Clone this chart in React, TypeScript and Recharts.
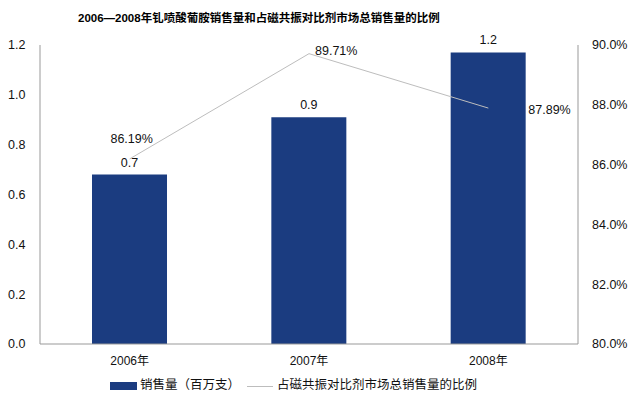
import React from 'react';
import { ComposedChart, Bar, Line, XAxis, YAxis, LabelList, Legend } from 'recharts';

const years = ['2006年', '2007年', '2008年'];
const sales = [0.68, 0.91, 1.17];
const salesLabels = ['0.7', '0.9', '1.2'];
const shares = [86.19, 89.71, 87.89];
const leftTicks = [0, 0.2, 0.4, 0.6, 0.8, 1.0, 1.2];
const rightTicks = [80, 82, 84, 86, 88, 90];

const title = '2006—2008年钆喷酸葡胺销售量和占磁共振对比剂市场总销售量的比例';
const barName = '销售量（百万支）';
const lineName = '占磁共振对比剂市场总销售量的比例';

const data = years.map((y, i) => ({ year: y, sales: sales[i], salesLabel: salesLabels[i], share: shares[i] }));

const FONT = '"Liberation Sans", Arial, "Noto Sans CJK SC", sans-serif';
const BAR_COLOR = '#1b3c80';
const LINE_COLOR = '#bdbdbd';
const AXIS_COLOR = '#999999';

const lineLabelOffsets = [
  { dx: 2, dy: -20, anchor: 'middle' },
  { dx: 6, dy: -3, anchor: 'start' },
  { dx: 40, dy: 2, anchor: 'start' },
];

const LineLabel = (props: any) => {
  const { x, y, index, value } = props;
  const o = lineLabelOffsets[index] || { dx: 0, dy: -10, anchor: 'middle' };
  return (
    <text x={x + o.dx} y={y + o.dy} textAnchor={o.anchor} fontSize={12.5} fontFamily={FONT} fill="#111" dominantBaseline="central">
      {Number(value).toFixed(2)}%
    </text>
  );
};

const BarLabel = (props: any) => {
  const { x, y, width, index } = props;
  return (
    <text x={x + width / 2} y={y - 12} textAnchor="middle" fontSize={12.5} fontFamily={FONT} fill="#111" dominantBaseline="central">
      {salesLabels[index]}
    </text>
  );
};

const LegendContent = () => (
  <div style={{ height: 24, position: 'relative', fontFamily: FONT, fontSize: 12.5, color: '#111' }}>
    <div style={{ position: 'absolute', left: 110, top: 8, width: 27, height: 8, background: BAR_COLOR }} />
    <div style={{ position: 'absolute', left: 140, top: 4, lineHeight: '15px', whiteSpace: 'nowrap' }}>{barName}</div>
    <div style={{ position: 'absolute', left: 247, top: 12, width: 26, height: 1, background: LINE_COLOR }} />
    <div style={{ position: 'absolute', left: 277, top: 4, lineHeight: '15px', whiteSpace: 'nowrap' }}>{lineName}</div>
  </div>
);

export default function App() {
  return (
    <div style={{ position: 'absolute', left: 0, top: 0, width: 630, height: 398, background: '#fff' }}>
      <svg width={630} height={30} style={{ position: 'absolute', left: 0, top: 0 }}>
        <text x={78} y={18} fontSize={11.5} fontWeight="bold" fontFamily={FONT} fill="#000" dominantBaseline="central">
          {title}
        </text>
      </svg>
      <ComposedChart
        width={630}
        height={398}
        data={data}
        margin={{ top: 45, right: 0, bottom: 0, left: 0 }}
        barCategoryGap="29%"
      >
        <XAxis
          dataKey="year"
          axisLine={{ stroke: AXIS_COLOR }}
          tickLine={false}
          height={30}
          tick={{ fontSize: 12, fontFamily: FONT, fill: '#111' }}
          tickMargin={6}
        />
        <YAxis
          yAxisId="left"
          orientation="left"
          width={40}
          domain={[0, 1.2]}
          ticks={leftTicks}
          tickFormatter={(v: number) => v.toFixed(1)}
          axisLine={{ stroke: AXIS_COLOR }}
          tickLine={false}
          tick={{ fontSize: 12.5, fontFamily: FONT, fill: '#111', textAnchor: 'start', dx: -24 }}
          interval={0}
        />
        <YAxis
          yAxisId="right"
          orientation="right"
          width={52}
          domain={[80, 90]}
          ticks={rightTicks}
          tickFormatter={(v: number) => v.toFixed(1) + '%'}
          axisLine={{ stroke: AXIS_COLOR }}
          tickLine={false}
          tick={{ fontSize: 12.5, fontFamily: FONT, fill: '#111' }}
          tickMargin={8}
          interval={0}
        />
        <Legend verticalAlign="bottom" content={<LegendContent />} wrapperStyle={{ left: 0, width: 630 }} />
        <Bar yAxisId="left" dataKey="sales" name={barName} fill={BAR_COLOR} isAnimationActive={false}>
          <LabelList dataKey="sales" content={<BarLabel />} />
        </Bar>
        <Line
          yAxisId="right"
          dataKey="share"
          name={lineName}
          stroke={LINE_COLOR}
          strokeWidth={1}
          dot={false}
          activeDot={false}
          type="linear"
          isAnimationActive={false}
        >
          <LabelList dataKey="share" content={<LineLabel />} />
        </Line>
      </ComposedChart>
    </div>
  );
}
